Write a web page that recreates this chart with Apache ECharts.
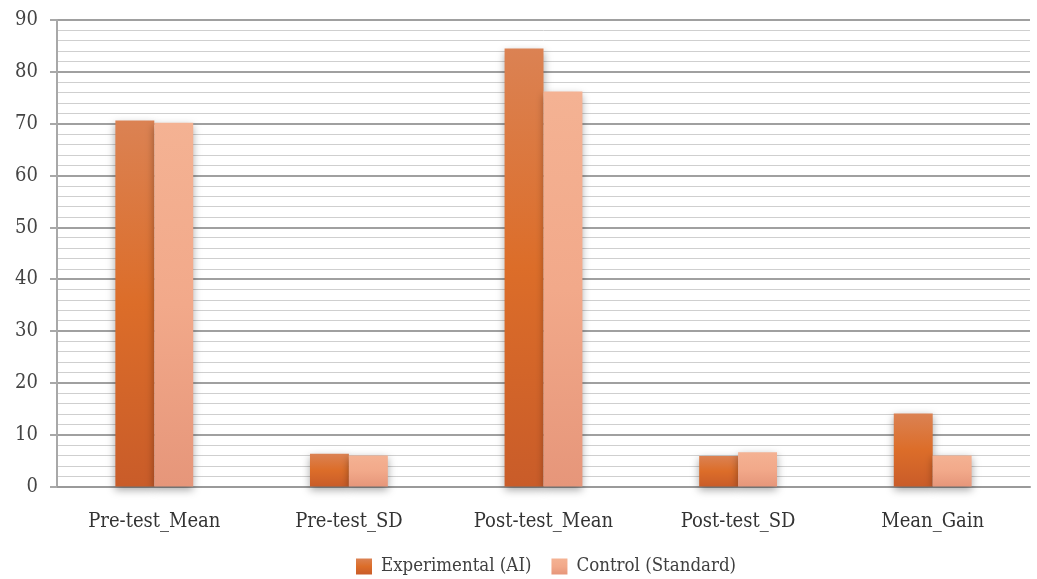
<!DOCTYPE html>
<html>
<head>
<meta charset="utf-8">
<script src="https://cdn.jsdelivr.net/npm/echarts@6/dist/echarts.min.js"></script>
<style>
html,body{margin:0;padding:0;background:#fff;}
#chart{width:1037px;height:579px;}
</style>
</head>
<body>
<div id="chart"></div>
<script>
// Category labels along the x axis
const categories = ['Pre-test_Mean', 'Pre-test_SD', 'Post-test_Mean', 'Post-test_SD', 'Mean_Gain'];
// Series values
const experimental = [70.6, 6.3, 84.5, 5.9, 14.1];
const control = [70.2, 6.0, 76.2, 6.6, 6.0];
const seriesNames = ['Experimental (AI)', 'Control (Standard)'];

const font = '"DejaVu Serif Condensed", "DejaVu Serif", serif';

function grad(stops) {
  return new echarts.graphic.LinearGradient(0, 0, 0, 1,
    stops.map(s => ({ offset: s[0], color: s[1] })));
}

const chart = echarts.init(document.getElementById('chart'), null, { renderer: 'canvas' });

const barStyle = (c) => ({
  color: c,
  shadowColor: 'rgba(0,0,0,0.35)',
  shadowBlur: 8,
  shadowOffsetY: 3
});

chart.setOption({
  animation: false,
  grid: { left: 57, right: 7, top: 20, bottom: 92.5, containLabel: false },
  legend: {
    top: 552,
    left: 351,
    itemWidth: 16,
    itemHeight: 16,
    itemGap: 20,
    icon: 'rect',
    textStyle: { fontFamily: font, fontSize: 18.5, color: '#404040', padding: [0, 0, 0, 4] },
    data: seriesNames
  },
  xAxis: {
    type: 'category',
    data: categories,
    axisLine: { show: true, lineStyle: { color: '#9a9a9a', width: 2 } },
    axisTick: { show: false },
    axisLabel: { fontFamily: font, fontSize: 20, color: '#333', margin: 25 }
  },
  yAxis: {
    type: 'value',
    min: 0,
    max: 90,
    interval: 10,
    axisLine: { show: true, lineStyle: { color: '#a8a8a8', width: 2 } },
    axisTick: { show: true, length: 7, lineStyle: { color: '#a8a8a8', width: 2 } },
    axisLabel: { fontFamily: font, fontSize: 20, color: '#444', margin: 19 },
    splitLine: { show: true, lineStyle: { color: '#a0a0a0', width: 2 } },
    minorTick: { show: false, splitNumber: 5 },
    minorSplitLine: { show: true, lineStyle: { color: '#cfcfcf', width: 1 } }
  },
  series: [
    {
      name: seriesNames[0],
      type: 'bar',
      data: experimental,
      barGap: '0%',
      barCategoryGap: '60%',
      itemStyle: barStyle(grad([[0, '#db8253'], [0.5, '#dc6d29'], [1, '#c95c29']]))
    },
    {
      name: seriesNames[1],
      type: 'bar',
      data: control,
      itemStyle: barStyle(grad([[0, '#f4b293'], [0.5, '#f2a98a'], [1, '#e6967a']]))
    }
  ]
});
</script>
</body>
</html>
